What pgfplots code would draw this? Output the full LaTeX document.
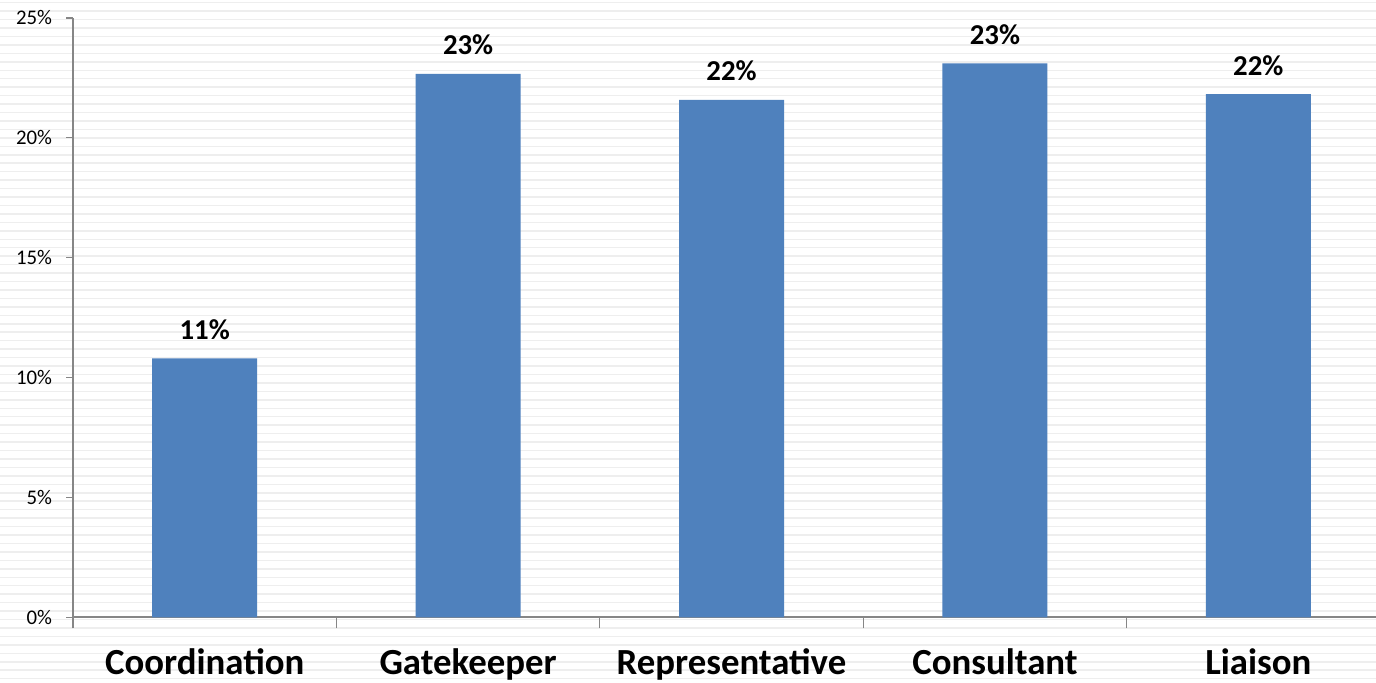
\documentclass[border=0pt]{standalone}
\usepackage{fontspec}
\setmainfont{Carlito}
\usepackage{pgfplots}
\pgfplotsset{compat=1.18}

\definecolor{barblue}{HTML}{4F81BD}
\definecolor{axisgray}{HTML}{868686}
\definecolor{stripe}{HTML}{EEEEEE}

\begin{document}
\begin{tikzpicture}
  % page frame and striped slide background
  \path[use as bounding box] (0pt,0pt) rectangle (688pt,341.5pt);
  \clip (0pt,0pt) rectangle (688pt,341.5pt);
  \fill[white] (0pt,0pt) rectangle (688pt,341.5pt);
  \foreach \i in {0,...,81} {
    \fill[stripe] (0pt,{340.15pt-\i*4.225pt-0.375pt}) rectangle ++(688pt,0.75pt);
  }

  \begin{axis}[
    at={(36.5pt,32.85pt)}, anchor=south west,
    scale only axis, width=658.5pt, height=299.65pt,
    xmin=-0.5, xmax=4.5, ymin=0, ymax=25,
    axis x line*=bottom, axis y line*=left,
    x axis line style={axisgray, line width=1pt},
    y axis line style={axisgray, line width=0.65pt},
    tick align=outside,
    major tick length=3.3pt,
    tick style={axisgray, line width=0.65pt},
    ytick={0,5,...,25},
    yticklabel={\pgfmathprintnumber{\tick}\%},
    yticklabel style={font=\fontsize{10.4}{12}\selectfont, inner sep=0pt, anchor=east, xshift=-7pt},
    % category boundaries carry the ticks, names sit between them
    xtick={-0.5,0.5,...,4.5},
    x tick label as interval,
    xticklabels={Coordination,Gatekeeper,Representative,Consultant,Liaison},
    xticklabel style={font=\fontsize{18.4}{21}\selectfont\bfseries, inner sep=0pt, anchor=base, yshift=-25.5pt},
    extra x ticks={-0.5,0.5,...,4.5},
    extra x tick labels={},
    extra x tick style={major tick length=5.5pt},
    /pgf/number format/assume math mode=true,
    ybar, bar width=52.5pt,
    nodes near coords={\pgfmathprintnumber[fixed,precision=0]{\pgfplotspointmeta}\%},
    nodes near coords style={font=\fontsize{14.4}{16}\selectfont\bfseries, inner sep=0pt, anchor=base, yshift=9.5pt, text=black},
  ]
    \addplot[fill=barblue, draw=none] coordinates {
      (0,10.80) (1,22.67) (2,21.58) (3,23.11) (4,21.82)
    };
  \end{axis}
\end{tikzpicture}
\end{document}
